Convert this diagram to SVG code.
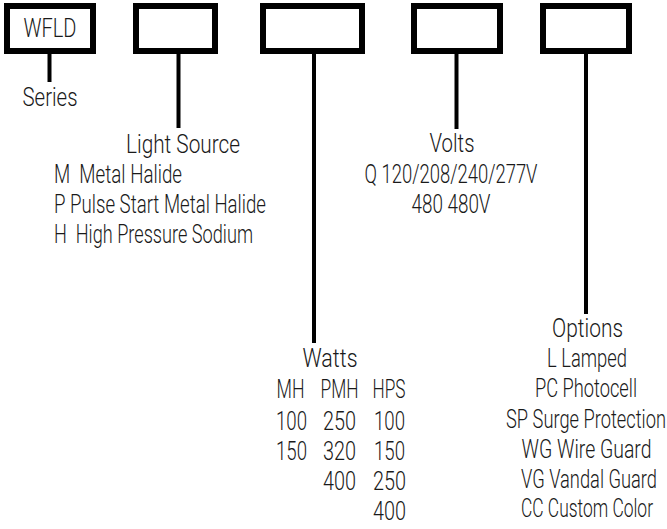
<svg xmlns="http://www.w3.org/2000/svg" width="667" height="529" viewBox="0 0 667 529">
<style>
.box{fill:#fff;stroke:#000;stroke-width:6}
.ln{stroke:#000;stroke-width:4;fill:none}
text{font-family:Roboto,"Liberation Sans",sans-serif;font-weight:300;font-size:26px;fill:#1a1a1a}
.c{text-anchor:middle}
</style>
<rect width="667" height="529" fill="#fff"/>
<g id="connectors">
<line class="ln" x1="49.5" y1="54" x2="49.5" y2="82"/>
<line class="ln" x1="178.5" y1="54" x2="178.5" y2="128"/>
<line class="ln" x1="314" y1="54" x2="314" y2="343"/>
<line class="ln" x1="456.5" y1="54" x2="456.5" y2="129"/>
<line class="ln" x1="586" y1="54" x2="586" y2="314"/>
</g>
<g id="series">
<rect class="box" x="7" y="6" width="86" height="45"/>
<text class="c" x="50" y="37" textLength="53" lengthAdjust="spacingAndGlyphs">WFLD</text>
<text class="c" x="50" y="106" textLength="55" lengthAdjust="spacingAndGlyphs">Series</text>
</g>
<g id="light-source">
<rect class="box" x="136" y="6" width="79" height="45"/>
<text class="c" x="183" y="153" textLength="114" lengthAdjust="spacingAndGlyphs">Light Source</text>
<text x="54" y="183" xml:space="preserve" textLength="128" lengthAdjust="spacingAndGlyphs">M  Metal Halide</text>
<text x="54" y="213" textLength="212" lengthAdjust="spacingAndGlyphs">P Pulse Start Metal Halide</text>
<text x="54" y="243" xml:space="preserve" textLength="199" lengthAdjust="spacingAndGlyphs">H  High Pressure Sodium</text>
</g>
<g id="watts">
<rect class="box" x="263" y="6" width="99" height="45"/>
<text class="c" x="330" y="367" textLength="55" lengthAdjust="spacingAndGlyphs">Watts</text>
<text class="c" x="290.5" y="398" textLength="28" lengthAdjust="spacingAndGlyphs">MH</text>
<text class="c" x="339.5" y="398" textLength="38" lengthAdjust="spacingAndGlyphs">PMH</text>
<text class="c" x="389" y="398" textLength="33" lengthAdjust="spacingAndGlyphs">HPS</text>
<text class="c" x="291.5" y="430" textLength="31" lengthAdjust="spacingAndGlyphs">100</text>
<text class="c" x="339.5" y="430" textLength="33" lengthAdjust="spacingAndGlyphs">250</text>
<text class="c" x="389.5" y="430" textLength="31" lengthAdjust="spacingAndGlyphs">100</text>
<text class="c" x="291.5" y="460" textLength="31" lengthAdjust="spacingAndGlyphs">150</text>
<text class="c" x="339.5" y="460" textLength="33" lengthAdjust="spacingAndGlyphs">320</text>
<text class="c" x="389.5" y="460" textLength="31" lengthAdjust="spacingAndGlyphs">150</text>
<text class="c" x="339.5" y="490" textLength="33" lengthAdjust="spacingAndGlyphs">400</text>
<text class="c" x="389.5" y="490" textLength="33" lengthAdjust="spacingAndGlyphs">250</text>
<text class="c" x="389.5" y="520" textLength="33" lengthAdjust="spacingAndGlyphs">400</text>
</g>
<g id="volts">
<rect class="box" x="414" y="6" width="86" height="45"/>
<text class="c" x="452" y="152" textLength="45" lengthAdjust="spacingAndGlyphs">Volts</text>
<text class="c" x="451" y="183" textLength="173" lengthAdjust="spacingAndGlyphs">Q 120/208/240/277V</text>
<text class="c" x="451" y="213" textLength="79" lengthAdjust="spacingAndGlyphs">480 480V</text>
</g>
<g id="options">
<rect class="box" x="543" y="6" width="86" height="45"/>
<text class="c" x="587.5" y="337" textLength="71" lengthAdjust="spacingAndGlyphs">Options</text>
<text class="c" x="587" y="367" textLength="80" lengthAdjust="spacingAndGlyphs">L Lamped</text>
<text class="c" x="586" y="397" textLength="102" lengthAdjust="spacingAndGlyphs">PC Photocell</text>
<text class="c" x="586" y="428" textLength="160" lengthAdjust="spacingAndGlyphs">SP Surge Protection</text>
<text class="c" x="586.5" y="458" textLength="130" lengthAdjust="spacingAndGlyphs">WG Wire Guard</text>
<text class="c" x="589" y="488" textLength="136" lengthAdjust="spacingAndGlyphs">VG Vandal Guard</text>
<text class="c" x="587" y="517" textLength="132" lengthAdjust="spacingAndGlyphs">CC Custom Color</text>
</g>
</svg>
